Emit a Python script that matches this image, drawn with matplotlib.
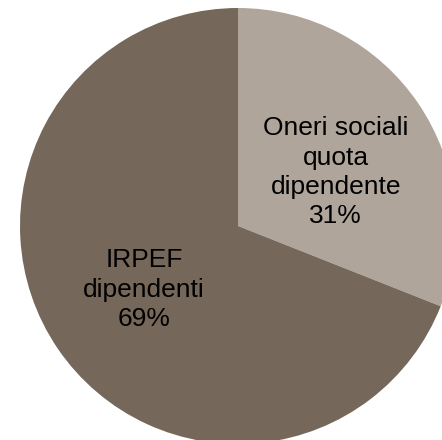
import matplotlib
matplotlib.use("Agg")
import matplotlib.pyplot as plt

# data
categorie = ["Oneri sociali\nquota\ndipendente", "IRPEF\ndipendenti"]
quote = [31, 69]
colori = ["#afa59b", "#756759"]

fig = plt.figure(figsize=(4.42, 4.40), dpi=100)
ax = fig.add_axes([0, 0, 1, 1])

etichette = ["%s\n%d%%" % (c, q) for c, q in zip(categorie, quote)]
wedges, texts = ax.pie(quote, labels=etichette, colors=colori,
                       startangle=90, counterclock=False,
                       center=(238, 214), radius=218,
                       labeldistance=0.52,
                       textprops=dict(fontsize=19, family=["Liberation Sans", "DejaVu Sans"],
                                      color="black", linespacing=1.28),
                       wedgeprops=dict(linewidth=0))
for t in texts:
    t.set_ha("center")
    t.set_va("center")
# small nudges to match the original label spots
x0, y0 = texts[0].get_position()
texts[0].set_position((x0 + 4, y0 - 10))

ax.set_xlim(0, 442)
ax.set_ylim(0, 440)
ax.set_aspect("equal")
ax.axis("off")

fig.savefig("out.png", dpi=100)
